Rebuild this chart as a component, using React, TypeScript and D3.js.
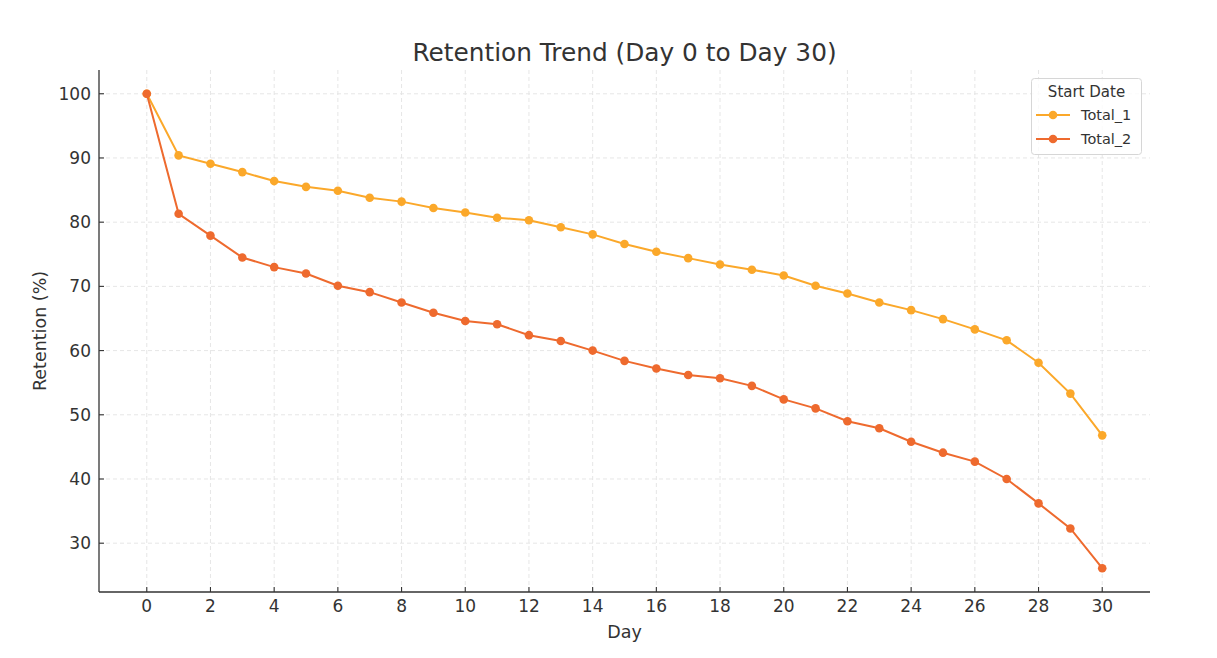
import React from "react";
import * as d3 from "d3";

const days: number[] = Array.from({ length: 31 }, (_, i) => i);
const total1: number[] = [
  100, 90.4, 89.1, 87.8, 86.4, 85.5, 84.9, 83.8, 83.2, 82.2, 81.5, 80.7, 80.3,
  79.2, 78.1, 76.6, 75.4, 74.4, 73.4, 72.6, 71.7, 70.1, 68.9, 67.5, 66.3, 64.9,
  63.3, 61.6, 58.1, 53.3, 46.8,
];
const total2: number[] = [
  100, 81.3, 77.9, 74.5, 73.0, 72.0, 70.1, 69.1, 67.5, 65.9, 64.6, 64.1, 62.4,
  61.5, 60.0, 58.4, 57.2, 56.2, 55.7, 54.5, 52.4, 51.0, 49.0, 47.9, 45.8, 44.1,
  42.7, 40.0, 36.2, 32.3, 26.1,
];
const seriesNames: string[] = ["Total_1", "Total_2"];
const seriesColors: string[] = ["#FBA82A", "#EE6A2E"];
const xTicks: number[] = [0, 2, 4, 6, 8, 10, 12, 14, 16, 18, 20, 22, 24, 26, 28, 30];
const yTicks: number[] = [30, 40, 50, 60, 70, 80, 90, 100];

const W = 1217;
const H = 658;
const FONT = "DejaVu Sans, sans-serif";
const TXT = "#333333";

export default function App() {
  const left = 99, right = 1150, top = 70, bottom = 592;
  const x = d3.scaleLinear().domain([-1.5, 31.5]).range([left, right]);
  const yMin = 22.4, yMax = 103.7;
  const y = d3.scaleLinear().domain([yMin, yMax]).range([bottom, top]);
  const line = d3
    .line<number>()
    .x((_, i) => x(days[i]))
    .y((v) => y(v));
  const series = [total1, total2];

  return (
    <svg
      width={W}
      height={H}
      style={{ position: "absolute", left: 0, top: 0, background: "#fff" }}
      fontFamily={FONT}
    >
      <rect x={0} y={0} width={W} height={H} fill="#fff" />
      {/* grid */}
      {xTicks.map((t) => (
        <line
          key={"gx" + t}
          x1={x(t)}
          x2={x(t)}
          y1={top}
          y2={bottom}
          stroke="#e3e3e3"
          strokeWidth={0.9}
          strokeDasharray="4,3"
        />
      ))}
      {yTicks.map((t) => (
        <line
          key={"gy" + t}
          x1={left}
          x2={right}
          y1={y(t)}
          y2={y(t)}
          stroke="#e3e3e3"
          strokeWidth={0.9}
          strokeDasharray="4,3"
        />
      ))}
      {/* series */}
      {series.map((s, si) => (
        <g key={"s" + si}>
          <path d={line(s) || ""} fill="none" stroke={seriesColors[si]} strokeWidth={2} />
          {s.map((v, i) => (
            <circle key={i} cx={x(days[i])} cy={y(v)} r={4.3} fill={seriesColors[si]} />
          ))}
        </g>
      ))}
      {/* spines */}
      <line x1={left} x2={left} y1={top} y2={bottom} stroke={TXT} strokeWidth={1.3} />
      <line x1={left} x2={right} y1={bottom} y2={bottom} stroke={TXT} strokeWidth={1.3} />
      {/* x ticks */}
      {xTicks.map((t) => (
        <g key={"xt" + t}>
          <line x1={x(t)} x2={x(t)} y1={bottom} y2={bottom - 5} stroke={TXT} strokeWidth={1.1} />
          <text x={x(t)} y={bottom + 20} textAnchor="middle" fontSize={17} fill={TXT}>
            {t}
          </text>
        </g>
      ))}
      {/* y ticks */}
      {yTicks.map((t) => (
        <g key={"yt" + t}>
          <line x1={left} x2={left + 5} y1={y(t)} y2={y(t)} stroke={TXT} strokeWidth={1.1} />
          <text
            x={left - 8}
            y={y(t)}
            textAnchor="end"
            dominantBaseline="central"
            fontSize={17}
            fill={TXT}
          >
            {t}
          </text>
        </g>
      ))}
      {/* labels */}
      <text x={(left + right) / 2} y={638} textAnchor="middle" fontSize={17.5} fill={TXT}>
        Day
      </text>
      <text
        transform={`translate(46, ${(top + bottom) / 2}) rotate(-90)`}
        textAnchor="middle"
        fontSize={17.5}
        fill={TXT}
      >
        Retention (%)
      </text>
      <text x={(left + right) / 2} y={61} textAnchor="middle" fontSize={24.8} fill={TXT}>
        Retention Trend (Day 0 to Day 30)
      </text>
      {/* legend */}
      <g>
        <rect
          x={1031.5}
          y={78.5}
          width={110}
          height={76}
          rx={3}
          fill="#fff"
          fillOpacity={0.8}
          stroke="#d6d6d6"
          strokeWidth={1}
        />
        <text x={1086.5} y={97} textAnchor="middle" fontSize={15} fill={TXT}>
          Start Date
        </text>
        {seriesNames.map((n, i) => (
          <g key={n}>
            <line
              x1={1036}
              x2={1070}
              y1={115 + i * 24}
              y2={115 + i * 24}
              stroke={seriesColors[i]}
              strokeWidth={2}
            />
            <circle cx={1053} cy={115 + i * 24} r={4.3} fill={seriesColors[i]} />
            <text
              x={1081}
              y={115 + i * 24}
              dominantBaseline="central"
              fontSize={14.5}
              fill={TXT}
            >
              {n}
            </text>
          </g>
        ))}
      </g>
    </svg>
  );
}
